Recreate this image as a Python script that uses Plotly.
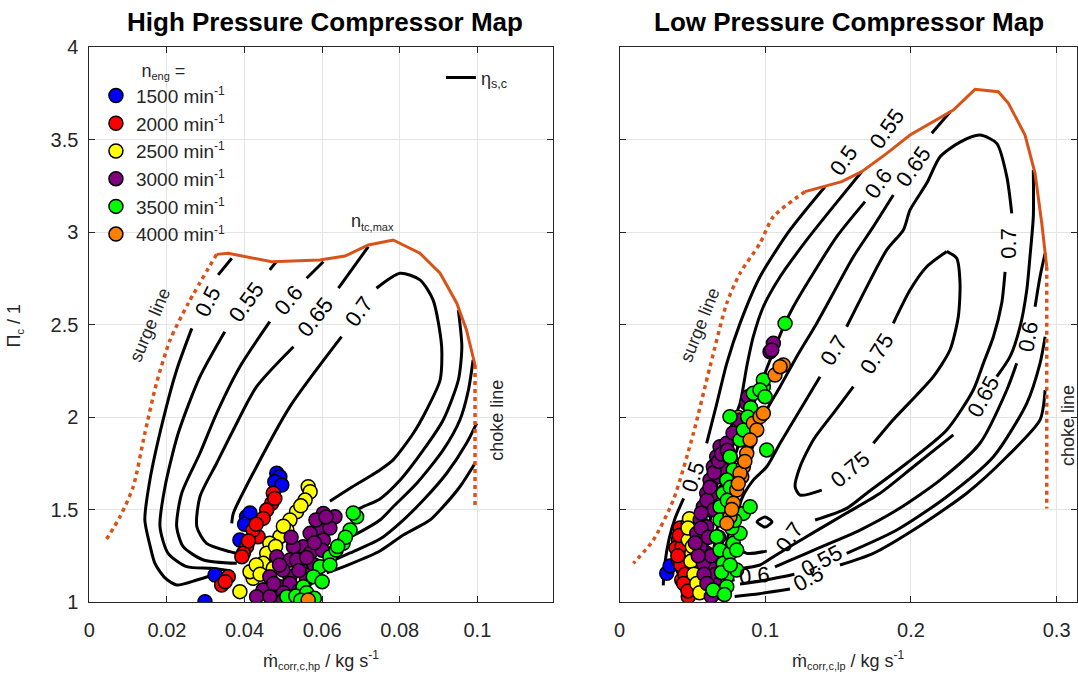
import plotly.graph_objects as go

FONT = "Liberation Sans"
ORANGE = "#D95319"
AXIS_GREY = "#262626"

# ---------------- engine speed groups ----------------
speed_labels = ["1500", "2000", "2500", "3000", "3500", "4000"]
speed_colors = ["#0000FF", "#FF0000", "#FFFF00", "#800080", "#00FF00", "#FF8000"]

# ---------------- high pressure stage: operating points ----------------
hp_1500_x = [0.0483, 0.0491, 0.0478, 0.0496, 0.0405, 0.0414, 0.0388, 0.0324, 0.0298, 0.0400]
hp_1500_y = [1.696, 1.677, 1.650, 1.632, 1.461, 1.481, 1.335, 1.146, 1.002, 1.420]
hp_2000_x = [0.0474, 0.0470, 0.0457, 0.0448, 0.0435, 0.0422, 0.0405, 0.0397, 0.0393, 0.0358,
             0.0341, 0.0478, 0.0430, 0.0410, 0.0350]
hp_2000_y = [1.588, 1.534, 1.497, 1.452, 1.353, 1.389, 1.299, 1.263, 1.245, 1.137,
             1.092, 1.560, 1.420, 1.330, 1.110]
hp_2500_x = [0.0564, 0.0569, 0.0556, 0.0534, 0.0517, 0.0509, 0.0491, 0.0465, 0.0457, 0.0448,
             0.0422, 0.0388, 0.0474, 0.0448, 0.0414, 0.0430, 0.0440, 0.0480, 0.0500, 0.0545]
hp_2500_y = [1.623, 1.596, 1.551, 1.488, 1.443, 1.389, 1.353, 1.317, 1.263, 1.209,
             1.128, 1.056, 1.182, 1.065, 1.164, 1.200, 1.150, 1.300, 1.410, 1.520]
hp_3000_x = [0.0633, 0.0603, 0.0594, 0.0569, 0.0551, 0.0526, 0.0517, 0.0543, 0.0483, 0.0465,
             0.0448, 0.0431, 0.0465, 0.0491, 0.0517, 0.0534, 0.0569, 0.0603, 0.0499, 0.0558,
             0.0584, 0.0509, 0.0517, 0.0540, 0.0500, 0.0560, 0.0580, 0.0600, 0.0620, 0.0580,
             0.0560, 0.0540, 0.0490, 0.0475, 0.0520, 0.0610, 0.0500, 0.0530]
hp_3000_y = [1.461, 1.479, 1.389, 1.371, 1.299, 1.299, 1.227, 1.191, 1.245, 1.137,
             1.065, 1.029, 1.029, 1.083, 1.137, 1.227, 1.263, 1.335, 1.173, 1.146,
             1.443, 1.032, 1.100, 1.060, 1.050, 1.120, 1.200, 1.280, 1.400, 1.320,
             1.240, 1.170, 1.200, 1.100, 1.350, 1.460, 1.010, 1.020]
hp_3500_x = [0.0689, 0.0680, 0.0672, 0.0654, 0.0620, 0.0594, 0.0577, 0.0551, 0.0509, 0.0532,
             0.0636, 0.0600, 0.0620, 0.0560, 0.0580, 0.0660, 0.0640, 0.0545]
hp_3500_y = [1.461, 1.481, 1.389, 1.317, 1.245, 1.191, 1.137, 1.083, 1.029, 1.032,
             1.281, 1.110, 1.200, 1.050, 1.020, 1.350, 1.300, 1.010]
hp_4000_x = [0.0564]
hp_4000_y = [1.011]

# ---------------- high pressure stage: map boundaries ----------------
hp_ntc_x = [0.0328, 0.0358, 0.0470, 0.0594, 0.0659, 0.0719, 0.0783, 0.0852, 0.0904, 0.0947, 0.0972, 0.0994]
hp_ntc_y = [2.879, 2.885, 2.839, 2.849, 2.870, 2.930, 2.957, 2.885, 2.777, 2.615, 2.470, 2.281]
hp_surge_x = [0.0328, 0.0255, 0.0208, 0.0173, 0.0143, 0.0113, 0.0079, 0.0040]
hp_surge_y = [2.879, 2.615, 2.416, 2.182, 1.912, 1.623, 1.461, 1.326]
hp_choke_x = [0.0994, 0.0994]
hp_choke_y = [2.281, 1.515]

# ---------------- high pressure stage: efficiency iso-lines ----------------
hp_eta050_x = [0.0332, 0.0367, None,
               0.0264, 0.0225, 0.0190, 0.0156, 0.0143, 0.0156, 0.0169, 0.0195, 0.0225, 0.0277, 0.0319, None,
               0.0994, 0.0955, 0.0904, 0.0878, 0.0809, 0.0749, 0.0672, 0.0612]
hp_eta050_y = [2.768, 2.858, None,
               2.479, 2.254, 1.984, 1.659, 1.443, 1.308, 1.209, 1.130, 1.092, 1.119, 1.146, None,
               1.750, 1.623, 1.497, 1.443, 1.362, 1.276, 1.205, 1.157]
hp_eta055_x = [0.0465, 0.0481, None,
               0.0349, 0.0285, 0.0229, 0.0195, 0.0182, 0.0203, 0.0251, 0.0311, 0.0362, None,
               0.0998, 0.0972, 0.0921, 0.0861, 0.0809, 0.0749, 0.0672, 0.0603]
hp_eta055_y = [2.795, 2.838, None,
               2.461, 2.218, 1.912, 1.623, 1.407, 1.263, 1.191, 1.182, 1.169, None,
               1.966, 1.858, 1.696, 1.551, 1.443, 1.340, 1.265, 1.200]
hp_eta060_x = [0.0560, 0.0603, None,
               0.0465, 0.0388, 0.0328, 0.0285, 0.0238, 0.0225, 0.0242, 0.0294, 0.0380, None,
               0.0989, 0.0977, 0.0955, 0.0912, 0.0844, 0.0783, 0.0749, 0.0697, 0.0637]
hp_eta060_y = [2.750, 2.839, None,
               2.515, 2.272, 2.020, 1.804, 1.588, 1.407, 1.299, 1.227, 1.209, None,
               2.308, 2.146, 1.984, 1.822, 1.642, 1.515, 1.443, 1.378, 1.320]
hp_eta065_x = [0.0642, 0.0719, None,
               0.0526, 0.0431, 0.0371, 0.0328, 0.0285, 0.0277, 0.0302, 0.0362, 0.0380, None,
               0.0951, 0.0960, 0.0951, 0.0912, 0.0861, 0.0801, 0.0749, 0.0710, 0.0672]
hp_eta065_y = [2.696, 2.921, None,
               2.380, 2.164, 1.930, 1.750, 1.569, 1.407, 1.317, 1.272, 1.263, None,
               2.578, 2.380, 2.200, 1.984, 1.822, 1.659, 1.557, 1.519, 1.481]
hp_eta070_x = [0.0650, 0.0517, 0.0422, 0.0371, 0.0367, None,
               0.0740, 0.0801, 0.0852, 0.0886, 0.0908, 0.0904, 0.0869, 0.0835, 0.0783, 0.0749, 0.0672, 0.0620]
hp_eta070_y = [2.434, 2.056, 1.696, 1.479, 1.425, None,
               2.696, 2.777, 2.741, 2.632, 2.380, 2.200, 2.038, 1.912, 1.768, 1.714, 1.615, 1.545]

hp_lbl_text = ["0.5", "0.55", "0.6", "0.65", "0.7"]
hp_lbl_x = [0.0306, 0.0406, 0.0512, 0.0584, 0.0695]
hp_lbl_y = [2.622, 2.622, 2.632, 2.541, 2.568]
hp_lbl_angle = [-63, -54, -50, -52, -54]

# ---------------- low pressure stage: operating points ----------------
lp_1500_x = [0.0324, 0.0347]
lp_1500_y = [1.155, 1.195]
lp_2000_x = [0.0404, 0.0415, 0.0404, 0.0438, 0.0427, 0.0461, 0.0484, 0.0472, 0.0415, 0.0388,
             0.0430, 0.0420, 0.0450, 0.0440, 0.0470, 0.0410, 0.0400]
lp_2000_y = [1.335, 1.281, 1.227, 1.173, 1.119, 1.083, 1.047, 1.029, 1.400, 1.292,
             1.300, 1.200, 1.150, 1.100, 1.060, 1.360, 1.250]
lp_2500_x = [0.0472, 0.0484, 0.0472, 0.0496, 0.0518, 0.0541, 0.0564, 0.0587, 0.0815,
             0.0500, 0.0490, 0.0510, 0.0530, 0.0550, 0.0480, 0.0470]
lp_2500_y = [1.425, 1.389, 1.335, 1.263, 1.191, 1.137, 1.101, 1.065, 1.997,
             1.300, 1.220, 1.150, 1.100, 1.050, 1.450, 1.400]
lp_3000_x = [0.0553, 0.0575, 0.0598, 0.0621, 0.0644, 0.0667, 0.0690, 0.0736, 0.0712, 0.0690,
             0.0644, 0.0621, 0.0598, 0.0575, 0.0598, 0.0621, 0.0644, 0.0667, 0.0530, 0.0553,
             0.0575, 0.0873, 0.0884, 0.1033, 0.1056, 0.1045, 0.0779, 0.0820, 0.0738,
             0.0560, 0.0600, 0.0620, 0.0650, 0.0680, 0.0700, 0.0650, 0.0610, 0.0630, 0.0660,
             0.0690, 0.0700, 0.0580, 0.0600, 0.0630, 0.0560, 0.0720, 0.0700, 0.0680, 0.0540,
             0.0520, 0.0760, 0.0740]
lp_3000_y = [1.443, 1.515, 1.588, 1.659, 1.731, 1.785, 1.839, 1.858, 1.768, 1.677,
             1.588, 1.497, 1.407, 1.335, 1.263, 1.191, 1.119, 1.065, 1.371, 1.299,
             1.209, 2.074, 2.110, 2.353, 2.398, 2.362, 1.914, 1.984, 1.714,
             1.400, 1.550, 1.620, 1.700, 1.760, 1.800, 1.500, 1.350, 1.250, 1.150,
             1.100, 1.050, 1.150, 1.100, 1.030, 1.480, 1.600, 1.450, 1.350, 1.250,
             1.320, 1.780, 1.820]
lp_3500_x = [0.0758, 0.0781, 0.0736, 0.0712, 0.0690, 0.0690, 0.0667, 0.0690, 0.0712, 0.0736,
             0.0758, 0.0781, 0.0804, 0.0827, 0.0850, 0.0896, 0.0827, 0.0850, 0.1010, 0.0758,
             0.0918, 0.0987, 0.0804, 0.0736, 0.1136, 0.0987, 0.0964, 0.0999, 0.0642,
             0.0760, 0.0740, 0.0770, 0.0720, 0.0700, 0.0760, 0.0790, 0.0900, 0.0880]
lp_3500_y = [1.785, 1.714, 1.659, 1.588, 1.515, 1.443, 1.353, 1.281, 1.209, 1.137,
             1.263, 1.317, 1.281, 1.371, 1.479, 1.515, 1.876, 1.930, 1.822, 2.002,
             2.128, 2.164, 1.173, 1.083, 2.506, 2.200, 2.146, 2.110, 1.065,
             1.620, 1.550, 1.400, 1.040, 1.160, 1.200, 1.440, 2.050, 2.000]
lp_4000_x = [0.0873, 0.0850, 0.0839, 0.0804, 0.0781, 0.0758, 0.0736, 0.0918, 0.0964, 0.0987,
             0.0942, 0.0896, 0.1124, 0.1067, 0.1102, 0.0827, 0.0860, 0.0815, 0.0770]
lp_4000_y = [1.803, 1.731, 1.677, 1.605, 1.534, 1.461, 1.425, 1.966, 2.002, 2.020,
             1.930, 1.876, 2.281, 2.227, 2.272, 1.696, 1.760, 1.640, 1.500]

# ---------------- low pressure stage: map boundaries ----------------
lp_ntc_x = [0.1273, 0.1525, 0.1662, 0.1834, 0.1994, 0.2291, 0.2440, 0.2600, 0.2669, 0.2783, 0.2852, 0.2898, 0.2932]
lp_ntc_y = [3.218, 3.272, 3.326, 3.425, 3.524, 3.659, 3.771, 3.758, 3.696, 3.524, 3.317, 3.047, 2.812]
lp_surge_x = [0.1273, 0.1056, 0.0964, 0.0827, 0.0736, 0.0621, 0.0507, 0.0369, 0.0232, 0.0095]
lp_surge_y = [3.218, 3.083, 2.939, 2.777, 2.615, 2.272, 1.912, 1.551, 1.335, 1.209]
lp_choke_x = [0.2932, 0.2932]
lp_choke_y = [2.812, 1.506]

# ---------------- low pressure stage: efficiency iso-lines ----------------
lp_eta050_x = [0.1410, 0.1170, 0.0964, 0.0827, 0.0736, 0.0668, 0.0598, None,
               0.0440, 0.0380, 0.0340, 0.0310, 0.0300, None,
               0.2921, 0.2886, 0.2658, 0.2383, 0.2017, 0.1742, 0.1513, None,
               0.1170, 0.0960, 0.0790]
lp_eta050_y = [3.245, 3.011, 2.758, 2.506, 2.290, 2.074, 1.858, None,
               1.560, 1.450, 1.340, 1.200, 1.090, None,
               2.146, 1.984, 1.785, 1.588, 1.389, 1.263, 1.200, None,
               1.070, 1.045, 1.030]
lp_eta055_x = [0.1662, 0.1467, 0.1285, 0.1102, 0.0987, 0.0918, 0.0873, 0.0827, 0.0758, 0.0690,
               0.0635, 0.0587, 0.0553, None,
               0.2921, 0.2886, 0.2795, 0.2566, 0.2246, 0.1903, 0.1559, None,
               0.1200, 0.1000, 0.0827]
lp_eta055_y = [3.326, 3.137, 2.957, 2.758, 2.596, 2.434, 2.272, 2.074, 1.930, 1.714,
               1.497, 1.281, 1.119, None,
               2.434, 2.290, 2.074, 1.785, 1.569, 1.389, 1.263, None,
               1.150, 1.118, 1.097]
lp_eta060_x = [0.1685, 0.1491, 0.1330, 0.1193, 0.1136, 0.1033, 0.0930, 0.0827, 0.0745, 0.0680,
               0.0640, 0.0620, None,
               0.2921, 0.2886, 0.2852, None,
               0.2726, 0.2658, 0.2474, 0.2200, 0.1903, 0.1651, 0.1376, 0.1170, 0.1067, None,
               0.0790, 0.0700]
lp_eta060_y = [3.164, 2.975, 2.777, 2.596, 2.506, 2.308, 2.092, 1.876, 1.659, 1.440,
               1.250, 1.100, None,
               2.885, 2.758, 2.596, None,
               2.290, 2.146, 1.858, 1.659, 1.497, 1.389, 1.295, 1.225, 1.190, None,
               1.120, 1.110]
lp_eta065_x = [0.2270, 0.2143, None,
               0.1879, 0.1742, 0.1605, 0.1467, 0.1353, 0.1216, 0.1102, 0.1010, 0.0930, 0.0861,
               0.0800, 0.0750, 0.0710, 0.0690, None,
               0.2840, 0.2840, 0.2817, 0.2795, 0.2749, 0.2680, 0.2589, None,
               0.2291, 0.2017, 0.1788, 0.1559, 0.1330, 0.1170, 0.1067, 0.0964, 0.0827]
lp_eta065_y = [3.650, 3.534, None,
               3.200, 3.029, 2.866, 2.669, 2.506, 2.326, 2.164, 2.038, 1.876, 1.714,
               1.550, 1.380, 1.200, 1.080, None,
               3.335, 3.083, 2.866, 2.686, 2.488, 2.326, 2.218, None,
               1.903, 1.731, 1.588, 1.481, 1.375, 1.300, 1.250, 1.200, 1.180]
lp_eta070_x = [0.1010, 0.0873, 0.0810, 0.0800, 0.0840, 0.0918, 0.1010, 0.1102, 0.1239, 0.1376, None,
               0.1559, 0.1651, 0.1834, 0.1948, 0.1994, 0.2108, 0.2200, 0.2337, 0.2474, 0.2589,
               0.2658, 0.2692, None,
               0.2646, 0.2623, 0.2566, 0.2497, 0.2428, 0.2246, 0.1971, 0.1697, 0.1559, 0.1342, None,
               0.0944, 0.0998, 0.1046, 0.0998, 0.0944]
lp_eta070_y = [1.275, 1.263, 1.300, 1.420, 1.560, 1.659, 1.731, 1.858, 2.038, 2.218, None,
               2.488, 2.632, 2.903, 3.011, 3.119, 3.263, 3.407, 3.486, 3.524, 3.479,
               3.299, 3.101, None,
               2.785, 2.615, 2.434, 2.290, 2.146, 1.930, 1.750, 1.588, 1.506, 1.443, None,
               1.434, 1.459, 1.434, 1.405, 1.434]
lp_eta075_x = [0.2246, 0.2108, 0.1994, 0.1879, None,
               0.1605, 0.1467, 0.1330, 0.1239, 0.1205, 0.1239, 0.1388, None,
               0.1742, 0.1877, 0.2040, 0.2154, 0.2268, 0.2325, 0.2337, 0.2314, 0.2246]
lp_eta075_y = [2.895, 2.812, 2.686, 2.506, None,
               2.164, 2.020, 1.876, 1.731, 1.623, 1.578, 1.605, None,
               1.858, 1.984, 2.119, 2.218, 2.362, 2.542, 2.723, 2.858, 2.895]

lp_lbl_text = ["0.5", "0.55", "0.6", "0.65", "0.7", "0.7", "0.75", "0.75", "0.5",
               "0.6", "0.65", "0.7", "0.6", "0.55", "0.5"]
lp_lbl_x = [0.1536, 0.1834, 0.1776, 0.2017, 0.1467, 0.2669, 0.1765, 0.1582, 0.0507,
            0.2806, 0.2497, 0.1170, 0.0925, 0.1388, 0.1296]
lp_lbl_y = [3.389, 3.561, 3.263, 3.353, 2.362, 2.939, 2.344, 1.714, 1.677,
            2.434, 2.110, 1.353, 1.145, 1.227, 1.128]
lp_lbl_angle = [-55, -55, -55, -55, -58, -90, -58, -40, -72,
                -80, -62, -55, -5, -28, -28]

fig = go.Figure()


def add_line(xs, ys, xa, ya, color, width, dash="solid", smooth=True, **kw):
    fig.add_trace(go.Scatter(
        x=xs, y=ys, xaxis=xa, yaxis=ya, mode="lines",
        line=dict(color=color, width=width, dash=dash,
                  shape="spline" if smooth else "linear", smoothing=0.7),
        hoverinfo="skip", **kw))


hp_eta = [(hp_eta050_x, hp_eta050_y), (hp_eta055_x, hp_eta055_y), (hp_eta060_x, hp_eta060_y),
          (hp_eta065_x, hp_eta065_y), (hp_eta070_x, hp_eta070_y)]
lp_eta = [(lp_eta050_x, lp_eta050_y), (lp_eta055_x, lp_eta055_y), (lp_eta060_x, lp_eta060_y),
          (lp_eta065_x, lp_eta065_y), (lp_eta070_x, lp_eta070_y), (lp_eta075_x, lp_eta075_y)]

# efficiency iso-lines
for i, (ex, ey) in enumerate(hp_eta):
    add_line(ex, ey, "x", "y", "black", 3, showlegend=(i == 0),
             name="η<sub>s,c</sub>", legend="legend2")
for ex, ey in lp_eta:
    add_line(ex, ey, "x2", "y2", "black", 3, showlegend=False)

# map boundaries: max turbo speed, surge and choke lines
for xa, ya, nx, ny, sx, sy, cx, cy in [
        ("x", "y", hp_ntc_x, hp_ntc_y, hp_surge_x, hp_surge_y, hp_choke_x, hp_choke_y),
        ("x2", "y2", lp_ntc_x, lp_ntc_y, lp_surge_x, lp_surge_y, lp_choke_x, lp_choke_y)]:
    add_line(nx, ny, xa, ya, ORANGE, 3, smooth=False, showlegend=False)
    add_line(sx, sy, xa, ya, ORANGE, 3.5, dash="4px,4px", showlegend=False)
    add_line(cx, cy, xa, ya, ORANGE, 3.5, dash="4px,4px", smooth=False, showlegend=False)

# operating points
hp_pts = [(hp_1500_x, hp_1500_y), (hp_2000_x, hp_2000_y), (hp_2500_x, hp_2500_y),
          (hp_3000_x, hp_3000_y), (hp_3500_x, hp_3500_y), (hp_4000_x, hp_4000_y)]
lp_pts = [(lp_1500_x, lp_1500_y), (lp_2000_x, lp_2000_y), (lp_2500_x, lp_2500_y),
          (lp_3000_x, lp_3000_y), (lp_3500_x, lp_3500_y), (lp_4000_x, lp_4000_y)]
sup_small = '<sup><span style="font-size:12px">{}</span></sup>'
for i, lab in enumerate(speed_labels):
    mk = dict(size=14, color=speed_colors[i], line=dict(color="black", width=1.5))
    fig.add_trace(go.Scatter(x=hp_pts[i][0], y=hp_pts[i][1], xaxis="x", yaxis="y",
                             mode="markers", marker=mk,
                             name=f"{lab} min" + sup_small.format("-1"),
                             legend="legend"))
    fig.add_trace(go.Scatter(x=lp_pts[i][0], y=lp_pts[i][1], xaxis="x2", yaxis="y2",
                             mode="markers", marker=mk, showlegend=False))

annotations = []
label_font = dict(family=FONT, size=22, color="black")
for t, x, y, a in zip(hp_lbl_text, hp_lbl_x, hp_lbl_y, hp_lbl_angle):
    annotations.append(dict(text=t, x=x, y=y, xref="x", yref="y", textangle=a,
                            showarrow=False, font=label_font))
for t, x, y, a in zip(lp_lbl_text, lp_lbl_x, lp_lbl_y, lp_lbl_angle):
    annotations.append(dict(text=t, x=x, y=y, xref="x2", yref="y2", textangle=a,
                            showarrow=False, font=label_font))

text_font = dict(family=FONT, size=18, color=AXIS_GREY)
small = '<span style="font-size:11px">{}</span>'
center = dict(xanchor="center", yanchor="middle", showarrow=False)
annotations += [
    dict(text="surge line", x=0.0156, y=2.497, xref="x", yref="y", textangle=-67,
         font=text_font, **center),
    dict(text="choke line", x=0.1050, y=1.984, xref="x", yref="y", textangle=-90,
         font=text_font, **center),
    dict(text="n<sub>" + small.format("tc,max") + "</sub>", x=0.0730, y=3.056,
         xref="x", yref="y", font=text_font, **center),
    dict(text="surge line", x=0.0552, y=2.497, xref="x2", yref="y2", textangle=-68,
         font=text_font, **center),
    dict(text="choke line", x=0.3078, y=1.957, xref="x2", yref="y2", textangle=-90,
         font=text_font, **center),
    dict(text="<b>High Pressure Compressor Map</b>", x=0.3015, y=0.967, xref="paper",
         yref="paper", font=dict(family=FONT, size=26, color="black"), **center),
    dict(text="<b>Low Pressure Compressor Map</b>", x=0.7875, y=0.967, xref="paper",
         yref="paper", font=dict(family=FONT, size=26, color="black"), **center),
    dict(text="Π<sub>" + small.format("c") + "</sub> / 1", x=0.014, y=0.518, xref="paper",
         yref="paper", textangle=-90, font=text_font, **center),
    dict(text="ṁ<sub>" + small.format("corr,c,hp") + "</sub> / kg s" + sup_small.format("-1"),
         x=0.298, y=0.022, xref="paper", yref="paper", font=text_font, **center),
    dict(text="ṁ<sub>" + small.format("corr,c,lp") + "</sub> / kg s" + sup_small.format("-1"),
         x=0.7875, y=0.022, xref="paper", yref="paper", font=text_font, **center),
]

axis_common = dict(showline=True, linecolor=AXIS_GREY, linewidth=1, mirror="ticks",
                   ticks="inside", ticklen=6, tickwidth=1, tickcolor=AXIS_GREY,
                   showgrid=True, gridcolor="#e4e4e4", gridwidth=1, zeroline=False,
                   automargin=False,
                   tickfont=dict(family=FONT, size=20, color=AXIS_GREY))

fig.update_layout(
    template="none",
    width=1078, height=675,
    margin=dict(l=0, r=0, t=0, b=0, pad=0, autoexpand=False),
    paper_bgcolor="white", plot_bgcolor="white",
    showlegend=True,
    xaxis=dict(domain=[0.0829, 0.5130], range=[0, 0.1195], tick0=0, dtick=0.02,
               anchor="y", ticklabelstandoff=10, **axis_common),
    yaxis=dict(domain=[0.10815, 0.93037], range=[1, 4], tick0=1, dtick=0.5,
               anchor="x", ticklabelstandoff=6, **axis_common),
    xaxis2=dict(domain=[0.5747, 0.9991], range=[0, 0.314], tick0=0, dtick=0.1,
                anchor="y2", ticklabelstandoff=10, **axis_common),
    yaxis2=dict(domain=[0.10815, 0.93037], range=[1, 4], tick0=1, dtick=0.5,
                anchor="x2", showticklabels=False, **axis_common),
    legend=dict(x=0.0890, y=0.921, xanchor="left", yanchor="top",
                bgcolor="rgba(0,0,0,0)", borderwidth=0,
                font=dict(family=FONT, size=19, color=AXIS_GREY),
                title=dict(text="n<sub>" + small.format("eng") + "</sub> =", side="top center",
                           font=dict(family=FONT, size=18, color=AXIS_GREY)),
                tracegroupgap=0, itemclick=False),
    legend2=dict(x=0.409, y=0.912, xanchor="left", yanchor="top",
                 bgcolor="rgba(0,0,0,0)", borderwidth=0,
                 font=dict(family=FONT, size=18, color=AXIS_GREY)),
    annotations=annotations,
)

fig.write_html("out.html")
